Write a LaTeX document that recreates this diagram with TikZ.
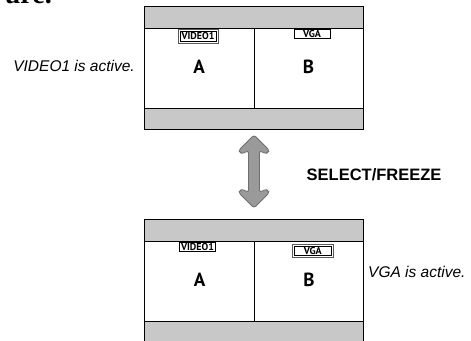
\documentclass[tikz,border=0pt]{standalone}
\usepackage{fontspec}
\usetikzlibrary{fit}
\setmainfont{Liberation Sans}
\newfontfamily\myr{PT Sans}
\newfontfamily\serifb{Liberation Serif}
\definecolor{bandgray}{HTML}{C8C8C8}
\definecolor{arrowfill}{HTML}{9A9A9A}
\definecolor{arrowline}{HTML}{6E6E6E}
\begin{document}
\begin{tikzpicture}[x=1pt,y=-1pt,
  panel/.style={draw=black,line width=0.8pt},
  band/.style={draw=black,fill=bandgray,line width=0.8pt},
  letter/.style={font=\myr\bfseries\fontsize{19}{19}\selectfont,inner sep=0pt},
  srclabel/.style={draw=black,line width=0.6pt,font=\myr\bfseries\fontsize{10}{10}\selectfont,inner sep=0pt,minimum height=9.5pt,text depth=0pt},
  activeframe/.style={draw=black!65,line width=0.7pt,inner sep=1.6pt},
  caption/.style={font=\itshape\fontsize{15.5}{15.5}\selectfont,inner sep=0pt},
]
\useasboundingbox (0,0) rectangle (471,340);
\clip (0,0) rectangle (471,340);
% cropped page text
\node[anchor=base east,inner sep=0pt,font=\serifb\bfseries\fontsize{28}{28}\selectfont] (pagetext) at (52,3.5) {ure.};
% ---------- top panel ----------
\draw[band] (144.5,6) rectangle (363.5,28.5);
\draw[panel] (144.5,28.5) rectangle (363.5,108.5);
\draw[band] (144.5,108.5) rectangle (363.5,129.5);
\draw[panel] (254,28.5) -- (254,108.5);
\node[srclabel,minimum width=36pt] (tv) at (198,36.3) {VIDEO1};
\node[activeframe,fit=(tv)] (tvf) {};
\node[srclabel,minimum width=36pt,anchor=north] (tg) at (312,28.5) {VGA};
\node[letter] (ta) at (199,66.5) {A};
\node[letter] (tb) at (308.5,66.5) {B};
\node[caption,anchor=east] (tc) at (135,66) {VIDEO1 is active.};
% ---------- bottom panel ----------
\draw[band] (144.5,219.5) rectangle (363.5,241.5);
\draw[panel] (144.5,241.5) rectangle (363.5,321.5);
\draw[band] (144.5,321.5) rectangle (363.5,345);
\draw[panel] (254,241.5) -- (254,321.5);
\node[srclabel,minimum width=36pt,anchor=north] (bv) at (197.5,241.5) {VIDEO1};
\node[srclabel,minimum width=37pt] (bg) at (312.8,250.8) {VGA};
\node[activeframe,fit=(bg)] (bgf) {};
\node[letter] (ba) at (199.5,280) {A};
\node[letter] (bb) at (309,280) {B};
\node[caption,anchor=west] (bc) at (368,271.5) {VGA is active.};
% ---------- double arrow ----------
\draw[fill=arrowfill,draw=arrowline,line width=0.8pt,rounded corners=2.5pt]
  (254,135) -- (269.5,150.5) -- (266,154) -- (259.5,150.5) -- (259.5,192.5)
  -- (266,189) -- (269.5,192.5) -- (254,208) -- (238.5,192.5) -- (242,189)
  -- (248.5,192.5) -- (248.5,150.5) -- (242,154) -- (238.5,150.5) -- cycle;
\node[font=\bfseries\fontsize{16.5}{16.5}\selectfont,anchor=west,inner sep=0pt] (sf) at (306.5,175) {SELECT/FREEZE};
\end{tikzpicture}
\end{document}
